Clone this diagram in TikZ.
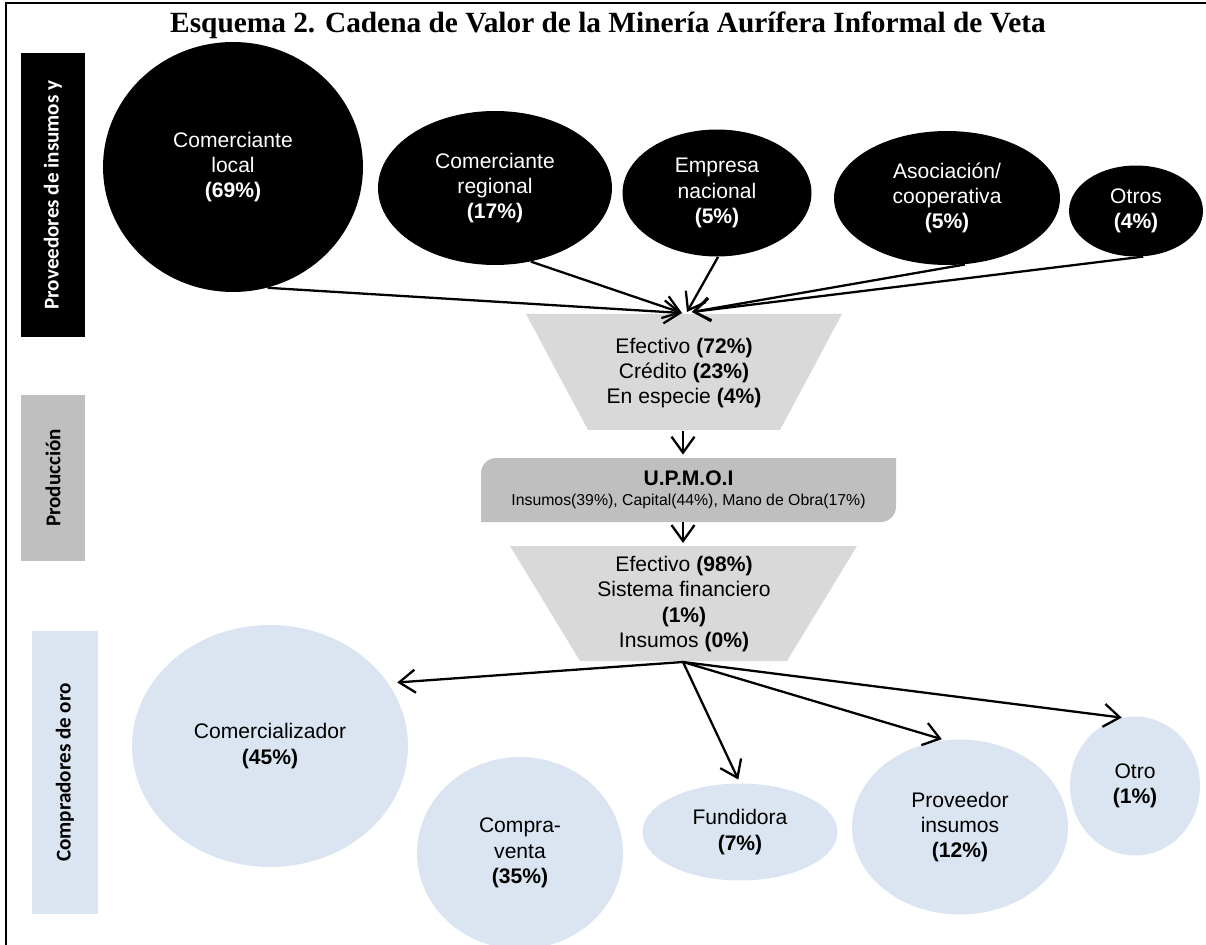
\documentclass[tikz,border=0pt]{standalone}
\usepackage{fontspec}
\setmainfont{Liberation Sans}
\newfontfamily\titlefont{Liberation Serif}
\newfontfamily\sidefont{Carlito}
\usetikzlibrary{arrows.meta,shapes.geometric}
\definecolor{grisP}{HTML}{BFBFBF}
\definecolor{grisF}{HTML}{D9D9D9}
\definecolor{azulC}{HTML}{DBE5F1}

\begin{document}
\begin{tikzpicture}[x=0.02cm, y=-0.02cm]
\tikzstyle{every node}=[font=\fontsize{12}{14.4}\selectfont, align=center, inner sep=0pt]
\tikzstyle{topell}=[ellipse, fill=black, text=white]
\tikzstyle{botell}=[ellipse, fill=azulC]
\tikzstyle{lado}=[rotate=90, font=\sidefont\bfseries\fontsize{12}{14}\selectfont]
\tikzstyle{arr}=[line width=1.3pt, -{Straight Barb[length=3.2mm, width=4.6mm]}]

\useasboundingbox (0,0) rectangle (1206,945);
\draw[line width=1.2pt] (6,945) -- (6,3) -- (1206,3); % marco

\node[anchor=base, font=\titlefont\bfseries\fontsize{16.7}{18}\selectfont] (titulo) at (608,33) {Esquema 2. Cadena de Valor de la Minería Aurífera Informal de Veta};

% etapas
\node[lado, fill=black, text=white, minimum width=5.68cm, minimum height=1.28cm] (ladoA) at (53,195) {Proveedores de insumos y};
\node[lado, fill=grisP, minimum width=3.32cm, minimum height=1.28cm] (ladoB) at (53,478) {Producción};
\node[lado, fill=azulC, minimum width=5.66cm, minimum height=1.32cm] (ladoC) at (65,772.5) {Compradores de oro};

% proveedores
\node[topell, minimum width=5.2cm, minimum height=5cm] (loc) at (233,167) {Comerciante\\local\\\textbf{(69\%)}};
\node[topell, minimum width=4.68cm, minimum height=3.08cm] (reg) at (495,188) {Comerciante\\regional\\\textbf{(17\%)}};
\node[topell, minimum width=3.78cm, minimum height=2.54cm] (nac) at (717,193) {Empresa\\nacional\\\textbf{(5\%)}};
\node[topell, minimum width=4.52cm, minimum height=2.68cm] (aso) at (947,198) {Asociación/\\cooperativa\\\textbf{(5\%)}};
\node[topell, minimum width=2.68cm, minimum height=1.82cm] (otros) at (1136,211) {Otros\\\textbf{(4\%)}};

% formas de pago
\fill[grisF] (526,314) -- (842,314) -- (780,430) -- (588,430) -- cycle; % embudo 1
\node (emb1) at (684,373) {Efectivo \textbf{(72\%)}\\Crédito \textbf{(23\%)}\\En especie \textbf{(4\%)}};

% unidad productiva
\fill[grisP] (481,522) -- (481,473) .. controls (481,465) and (488,458) .. (496,458) -- (896,458) -- (896,507) .. controls (896,515) and (889,522) .. (881,522) -- cycle;
\node[minimum width=8.3cm, minimum height=1.28cm] (upm) at (688.5,490) {{\bfseries U.P.M.O.I}\\[-3pt]{\fontsize{9}{11}\selectfont Insumos(39\%), Capital(44\%), Mano de Obra(17\%)}};

\fill[grisF] (510,546) -- (857,546) -- (787,661) -- (580,661) -- cycle; % embudo 2
\node (emb2) at (684,604) {Efectivo \textbf{(98\%)}\\Sistema financiero\\\textbf{(1\%)}\\Insumos \textbf{(0\%)}};

% compradores
\node[botell, minimum width=5.52cm, minimum height=4.84cm] (comz) at (270,746) {Comercializador\\\textbf{(45\%)}};
\node[botell, minimum width=4.12cm, minimum height=3.84cm] (cv) at (520,853) {Compra-\\venta\\\textbf{(35\%)}};
\node[botell, minimum width=3.9cm, minimum height=1.94cm] (fund) at (740,832) {Fundidora\\\textbf{(7\%)}};
\node[botell, minimum width=4.32cm, minimum height=3.5cm] (prov) at (960,827) {Proveedor\\insumos\\\textbf{(12\%)}};
\node[botell, minimum width=2.6cm, minimum height=2.78cm] (otro) at (1135,786) {Otro\\\textbf{(1\%)}};

\coordinate (c1) at (682,313);
\coordinate (c2) at (687,312);
\coordinate (c3) at (692,312);
\coordinate (e1) at (683,431); % salida embudo 1
\coordinate (e2) at (683,543); % entrada embudo 2
\coordinate (e3) at (683,662); % salida embudo 2

\draw[arr] (loc.-74) -- (c1);
\draw[arr] (reg.-64) -- (c1);
\draw[arr] (nac.-89) -- (c2);
\draw[arr] (aso.-75) -- (c3);
\draw[arr] (otros.-81) -- (c3);

\draw[arr, shorten >=0.06cm] (e1) -- (upm.north -| e1);
\draw[arr] (upm.south -| e2) -- (e2);

\draw[arr, shorten >=0.18cm] (e3) -- (comz.28);
\draw[arr, shorten >=0.08cm] (e3) -- (fund.north);
\draw[arr, shorten >=0.06cm] (e3) -- (prov.100);
\draw[arr] (e3) -- (otro.101);

\end{tikzpicture}
\end{document}
